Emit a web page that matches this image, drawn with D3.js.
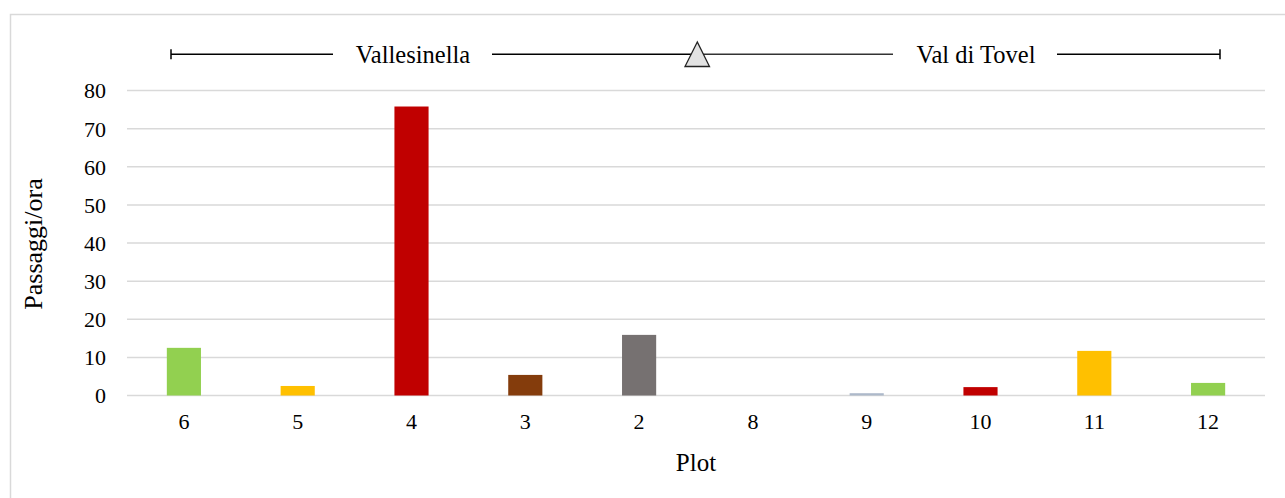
<!DOCTYPE html>
<html>
<head>
<meta charset="utf-8">
<script src="https://cdn.jsdelivr.net/npm/d3@7"></script>
<style>
  html, body { margin: 0; padding: 0; background: #fff; }
  svg { display: block; }
  text { font-family: "Liberation Serif", "Times New Roman", serif; fill: #000; }
</style>
</head>
<body>
<svg id="chart" width="1285" height="498"></svg>
<script>
// Plots ordered along the transect, Vallesinella -> Val di Tovel
const plots = ["6", "5", "4", "3", "2", "8", "9", "10", "11", "12"];
const passaggi = [12.5, 2.5, 75.8, 5.4, 15.9, 0, 0.6, 2.2, 11.7, 3.3];
const barColors = ["#92d050", "#ffc000", "#c00000", "#843c0c", "#767171",
                   "#767171", "#adb9ca", "#c00000", "#ffc000", "#92d050"];
const yTicks = [0, 10, 20, 30, 40, 50, 60, 70, 80];
const sites = ["Vallesinella", "Val di Tovel"];

const svg = d3.select("#chart");
const W = 1285, H = 498;

// outer frame
svg.append("rect")
  .attr("x", 10.5).attr("y", 14.5)
  .attr("width", W).attr("height", H)
  .attr("fill", "none").attr("stroke", "#d9d9d9").attr("stroke-width", 1.5);

const plotL = 127, plotR = 1265, plotT = 90.5, plotB = 395.5;

const x = d3.scaleBand().domain(plots).range([plotL, plotR]).paddingInner(0.7).paddingOuter(0.35);
const y = d3.scaleLinear().domain([0, 80]).range([plotB, plotT]);

// gridlines
svg.append("g").selectAll("line").data(yTicks).join("line")
  .attr("x1", plotL).attr("x2", plotR)
  .attr("y1", d => y(d)).attr("y2", d => y(d))
  .attr("stroke", "#d9d9d9").attr("stroke-width", 1.5);

// bars
svg.append("g").selectAll("rect").data(plots).join("rect")
  .attr("x", d => x(d))
  .attr("width", x.bandwidth())
  .attr("y", (d, i) => y(passaggi[i]))
  .attr("height", (d, i) => y(0) - y(passaggi[i]))
  .attr("fill", (d, i) => barColors[i]);

// y axis labels
const yAxis = d3.axisLeft(y).tickValues(yTicks).tickSize(0).tickPadding(0);
const gy = svg.append("g").attr("transform", `translate(106,0)`).call(yAxis);
gy.select(".domain").remove();
gy.selectAll("text").attr("font-size", 22).attr("dy", "0.34em");

// x axis labels
const xAxis = d3.axisBottom(x).tickSize(0).tickPadding(0);
const gx = svg.append("g").attr("transform", `translate(0,413)`).call(xAxis);
gx.select(".domain").remove();
gx.selectAll("text").attr("font-size", 22);

// axis titles
svg.append("text").attr("x", (plotL + plotR) / 2).attr("y", 471)
  .attr("text-anchor", "middle").attr("font-size", 25).text("Plot");
svg.append("text")
  .attr("transform", "translate(42,244) rotate(-90)")
  .attr("text-anchor", "middle").attr("font-size", 26).text("Passaggi/ora");

// transect annotation across the top
const ay = 54.3;
const segs = [[171, 333, "#000"], [492, 697, "#000"], [697, 893, "#333"], [1057, 1220, "#000"]];
svg.append("g").selectAll("line").data(segs).join("line")
  .attr("x1", d => d[0]).attr("x2", d => d[1])
  .attr("y1", ay).attr("y2", ay)
  .attr("stroke", d => d[2]).attr("stroke-width", 1.5);
[171, 1220].forEach(cx => {
  svg.append("line").attr("x1", cx).attr("x2", cx).attr("y1", ay - 5).attr("y2", ay + 5)
    .attr("stroke", "#000").attr("stroke-width", 1.5);
});
svg.append("path")
  .attr("d", "M697.3,42 L685,66.5 L709.5,66.5 Z")
  .attr("fill", "#e2e2e2").attr("stroke", "#222").attr("stroke-width", 1.3);

svg.append("text").attr("x", 413).attr("y", 63).attr("text-anchor", "middle")
  .attr("font-size", 24.5).text(sites[0]);
svg.append("text").attr("x", 976).attr("y", 63).attr("text-anchor", "middle")
  .attr("font-size", 24.5).text(sites[1]);
</script>
</body>
</html>
